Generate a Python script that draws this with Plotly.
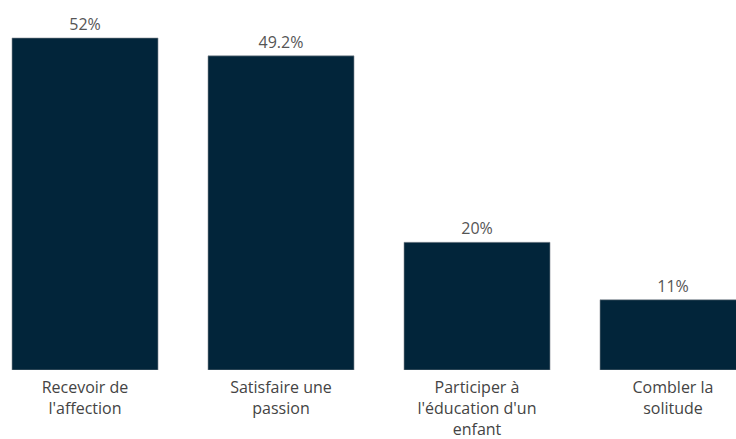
import plotly.graph_objects as go

categories = ["Recevoir de<br>l'affection", "Satisfaire une<br>passion",
              "Participer à<br>l'éducation d'un<br>enfant", "Combler la<br>solitude"]
values = [52, 49.2, 20, 11]

BAR_COLOR = "#02253a"
FONT = "Open Sans"

fig = go.Figure(
    go.Bar(
        x=list(range(len(categories))),
        y=values,
        marker=dict(color=BAR_COLOR, line=dict(color="#8a8f96", width=0.6)),
        texttemplate="%{y}%",
        textposition="outside",
        textfont=dict(family=FONT, size=16, color="#555555"),
        cliponaxis=False,
        hoverinfo="skip",
    )
)

fig.update_layout(
    width=736,
    height=439,
    margin=dict(l=0, r=0, t=0, b=69),
    paper_bgcolor="white",
    plot_bgcolor="white",
    bargap=0.255,
    showlegend=False,
    font=dict(family=FONT, size=16, color="#444444"),
)
fig.update_xaxes(
    tickmode="array",
    tickvals=list(range(len(categories))),
    ticktext=categories,
    range=[-0.4337, 3.3214],
    showgrid=False,
    zeroline=False,
    showline=False,
    ticks="",
    ticklabelstandoff=6,
    tickfont=dict(family=FONT, size=16, color="#444444"),
)
fig.update_yaxes(
    range=[0, 57.95],
    visible=False,
)

fig.write_html("out.html")
